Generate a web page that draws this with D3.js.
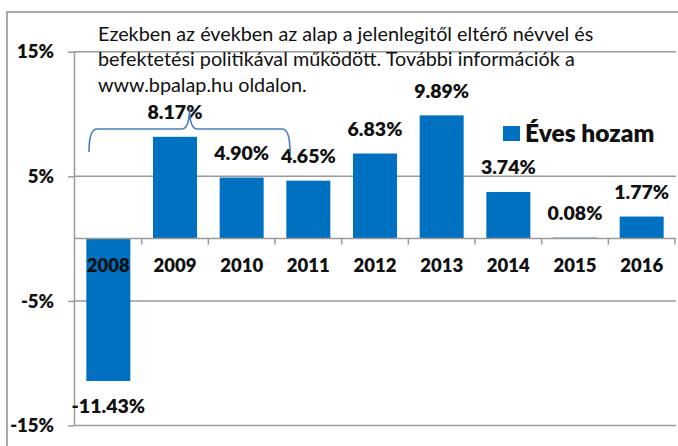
<!DOCTYPE html>
<html><head><meta charset="utf-8">
<script src="https://cdn.jsdelivr.net/npm/d3@7"></script>
<style>
html,body{margin:0;padding:0;background:#fff;}
svg{display:block;}
text{font-family:Lato,"Open Sans",sans-serif;fill:#111;}
</style></head>
<body>
<svg id="chart" width="678" height="446"></svg>
<script>
const years = ["2008","2009","2010","2011","2012","2013","2014","2015","2016"];
const returns = [-11.43, 8.17, 4.90, 4.65, 6.83, 9.89, 3.74, 0.08, 1.77];
const yTicks = [15, 5, -5, -15];
const seriesName = "Éves hozam";
const noteLines = [
  "Ezekben az években az alap a jelenlegitől eltérő névvel és",
  "befektetési politikával működött. További információk a",
  "www.bpalap.hu oldalon."
];

const svg = d3.select("#chart");
const plot = {left: 75, right: 675, top: 51.7, bottom: 425.5};
const barColor = "#0070C0";
const gridColor = "#9a9a9a";
const boldW = 800;

// outer frame
svg.append("rect").attr("x", 7).attr("y", 12).attr("width", 700).attr("height", 460)
  .attr("fill", "none").attr("stroke", "#8f8f8f").attr("stroke-width", 1.5);

const x = d3.scaleBand().domain(years).range([plot.left, plot.right]).paddingInner(0).paddingOuter(0);
const y = d3.scaleLinear().domain([-15, 15]).range([plot.bottom, plot.top]);
const bw = x.bandwidth() * 0.66;

// gridlines
svg.append("g").selectAll("line").data(yTicks).join("line")
  .attr("x1", plot.left - 1).attr("x2", 676)
  .attr("y1", d => y(d)).attr("y2", d => y(d))
  .attr("stroke", gridColor).attr("stroke-width", 1.5);

// y axis
const yAxis = svg.append("g").attr("transform", `translate(${plot.left - 1},0)`)
  .call(d3.axisLeft(y).tickValues(yTicks).tickSize(6).tickSizeOuter(0).tickPadding(14).tickFormat(d => d + "%"));
yAxis.select(".domain").attr("stroke", gridColor).attr("stroke-width", 1.5);
yAxis.selectAll(".tick line").attr("stroke", gridColor).attr("stroke-width", 1.5);
yAxis.selectAll(".tick text").attr("font-family", "Lato").attr("font-weight", boldW)
  .attr("font-size", 18.5).attr("fill", "#111").attr("dy", "0.34em");

// bars
svg.append("g").selectAll("rect").data(returns).join("rect")
  .attr("x", (d, i) => x(years[i]) + (x.bandwidth() - bw) / 2)
  .attr("width", bw)
  .attr("y", d => Math.min(y(d), y(0)))
  .attr("height", d => Math.max(1, Math.abs(y(d) - y(0))))
  .attr("fill", barColor);

// x axis line at zero
const y0 = y(0);
svg.append("line").attr("x1", plot.left - 1).attr("x2", 676).attr("y1", y0).attr("y2", y0)
  .attr("stroke", gridColor).attr("stroke-width", 1.5);
svg.append("g").selectAll("line").data(years).join("line")
  .attr("x1", d => x(d) + x.bandwidth()).attr("x2", d => x(d) + x.bandwidth())
  .attr("y1", y0).attr("y2", y0 + 6)
  .attr("stroke", gridColor).attr("stroke-width", 1.5);

// year labels
svg.append("g").selectAll("text").data(years).join("text")
  .attr("x", d => x(d) + x.bandwidth() / 2).attr("y", y0 + 33.4)
  .attr("text-anchor", "middle").attr("font-weight", boldW).attr("font-size", 18.5)
  .text(d => d);

// value labels
svg.append("g").selectAll("text").data(returns).join("text")
  .attr("x", (d, i) => x(years[i]) + x.bandwidth() / 2)
  .attr("y", d => d >= 0 ? y(d) - 17.5 : y(d) + 32)
  .attr("text-anchor", "middle").attr("font-weight", boldW).attr("font-size", 19.5)
  .text(d => d.toFixed(2) + "%");

// annotation text
svg.append("g").selectAll("text").data(noteLines).join("text")
  .attr("x", 98).attr("y", (d, i) => 40.5 + i * 25.5)
  .attr("font-size", 19.8).attr("font-weight", "normal")
  .text(d => d);

// brace annotation over 2008-2011
const bL = x("2008") + 14, bR = x("2011") + 15, bTop = 129, bEnd = 152, tipY = 108;
const bMid = (bL + bR) / 2;
svg.append("path")
  .attr("d", `M${bL},${bEnd} Q${bL},${bTop} ${bL + 8},${bTop} L${bMid - 8},${bTop} Q${bMid},${bTop} ${bMid},${tipY} Q${bMid},${bTop} ${bMid + 8},${bTop} L${bR - 8},${bTop} Q${bR},${bTop} ${bR},${bEnd}`)
  .attr("fill", "none").attr("stroke", "#4a7ebb").attr("stroke-width", 1.6);

// legend
svg.append("rect").attr("x", 503).attr("y", 126).attr("width", 17).attr("height", 15).attr("fill", barColor);
svg.append("text").attr("x", 525).attr("y", 141.5).attr("font-weight", boldW).attr("font-size", 24.5)
  .text(seriesName);
</script>
</body></html>
